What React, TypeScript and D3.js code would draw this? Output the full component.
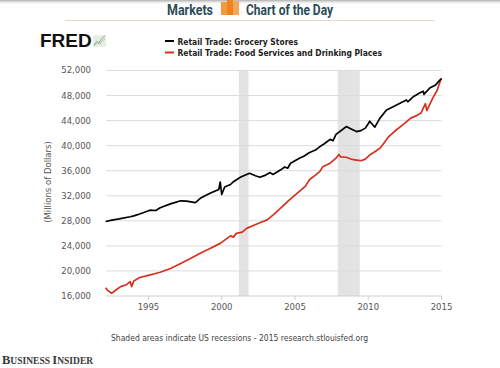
import * as d3 from 'd3';

// decimal years for each series
const groceryYears = [
  1992.08, 1992.5, 1993.0, 1993.75, 1994.0, 1994.4, 1995.1, 1995.5, 1995.8, 1996.5, 1997.2, 1997.6, 1998.2, 1998.6,
  1999.2, 1999.8, 1999.9, 2000.0, 2000.2, 2000.6, 2000.8, 2001.3, 2001.9, 2002.3, 2002.6, 2003.0,
  2003.3, 2003.5, 2004.0, 2004.3, 2004.5, 2004.7, 2005.3, 2005.6, 2006.0, 2006.4, 2006.7, 2007.0, 2007.4, 2007.6, 2007.8,
  2008.2, 2008.5, 2008.8, 2009.2, 2009.5, 2009.8, 2010.0, 2010.1, 2010.45, 2010.8, 2011.25, 2011.7,
  2012.2, 2012.6, 2012.7, 2013.1, 2013.5, 2013.75, 2013.8, 2014.2, 2014.6, 2014.9, 2015.0,
];
const groceryValues = [
  27900, 28100, 28300, 28650, 28800, 29100, 29700, 29650, 30100, 30700, 31200, 31150, 30900, 31700,
  32400, 33000, 34200, 32200, 33400, 33800, 34250, 35000, 35600, 35200, 34950, 35300,
  35700, 35400, 36100, 36600, 36400, 37200, 38000, 38300, 38900, 39300, 39850, 40300, 41000, 40800, 41800,
  42500, 43050, 42700, 42250, 42400, 42800, 43500, 43900, 42950, 44400, 45700, 46200,
  46800, 47300, 47000, 47850, 48400, 48700, 48200, 49200, 49700, 50500, 50650,
];

const foodYears = [
  1992.08, 1992.2, 1992.5, 1992.8, 1993.1, 1993.5, 1993.75, 1993.85, 1994.0, 1994.4, 1995.0, 1995.8,
  1996.5, 1997.2, 1997.8, 1998.5, 1999.2, 1999.9, 2000.6, 2000.8, 2001.0, 2001.4, 2001.7, 2002.2,
  2002.6, 2003.1, 2003.5, 2004.0, 2004.6, 2005.3, 2005.7, 2006.0, 2006.4, 2006.7, 2006.9, 2007.4,
  2007.8, 2008.0, 2008.1, 2008.5, 2008.9, 2009.2, 2009.5, 2009.8, 2010.1, 2010.5, 2010.8, 2011.1,
  2011.4, 2011.8, 2012.2, 2012.5, 2012.9, 2013.3, 2013.6, 2013.9, 2014.0, 2014.4, 2014.7, 2014.9, 2015.0,
];
const foodValues = [
  17300, 16900, 16450, 17000, 17500, 17800, 18300, 17500, 18400, 18950, 19300, 19800,
  20400, 21200, 21900, 22800, 23600, 24400, 25600, 25400, 26000, 26200, 26800, 27300,
  27700, 28150, 28900, 30000, 31300, 32700, 33500, 34600, 35300, 35900, 36650, 37200,
  38000, 38600, 38200, 38150, 37800, 37700, 37600, 37850, 38500, 39100, 39600, 40500,
  41450, 42300, 43050, 43600, 44400, 44800, 45200, 46700, 45600, 47600, 48800, 50200, 50800,
];

const yTicks = [16000, 20000, 24000, 28000, 32000, 36000, 40000, 44000, 48000, 52000];
const xTicks = [1995, 2000, 2005, 2010, 2015];
const recessions: [number, number][] = [
  [2001.17, 2001.83],
  [2007.92, 2009.42],
];
const seriesNames = ['Retail Trade: Grocery Stores', 'Retail Trade: Food Services and Drinking Places'];

const W = 500;
const H = 368;

export default function App() {
  const x = d3.scaleLinear().domain([1992, 2015]).range([104.5, 441.5]);
  const y = d3.scaleLinear().domain([16000, 52000]).range([296, 70.5]);

  const line = d3
    .line<[number, number]>()
    .x((d) => x(d[0]))
    .y((d) => y(d[1]));

  const grocery = groceryYears.map((t, i) => [t, groceryValues[i]] as [number, number]);
  const food = foodYears.map((t, i) => [t, foodValues[i]] as [number, number]);

  const fmt = d3.format(',');
  const gridX0 = 106;
  const gridX1 = x(2015);

  return (
    <svg
      width={W}
      height={H}
      style={{ position: 'absolute', left: 0, top: 0, background: '#fff' }}
      fontFamily="'DejaVu Sans', Verdana, sans-serif"
    >
      <defs>
        <linearGradient id="topShade" x1="0" y1="0" x2="0" y2="1">
          <stop offset="0" stopColor="#9a9a9a" stopOpacity={0.8} />
          <stop offset="1" stopColor="#ffffff" stopOpacity={0} />
        </linearGradient>
      </defs>
      <rect x={0} y={0} width={W} height={5} fill="url(#topShade)" />

      {/* header */}
      <text
        x={167}
        y={15}
        fontFamily="Roboto, 'Liberation Sans', sans-serif"
        fontWeight="bold"
        fontSize={15}
        fill="#2c4a57"
        textLength={46}
        lengthAdjust="spacingAndGlyphs"
      >
        Markets
      </text>
      <rect x={221} y={2} width={6} height={13} fill="#f39a3c" />
      <rect x={227} y={0} width={6} height={15} fill="#ee8420" />
      <rect x={233} y={1} width={6} height={14} fill="#f4a65a" />
      <text
        x={246}
        y={15}
        fontFamily="Roboto, 'Liberation Sans', sans-serif"
        fontWeight="bold"
        fontSize={15}
        fill="#2c4a57"
        textLength={87}
        lengthAdjust="spacingAndGlyphs"
      >
        Chart of the Day
      </text>
      <line x1={65} x2={434} y1={20.5} y2={20.5} stroke="#ead8cc" strokeWidth={1} />

      {/* FRED logo */}
      <text x={40} y={47} fontFamily="'Liberation Sans', Arial, sans-serif" fontWeight="bold" fontSize={19} fill="#111">
        FRED
      </text>
      <rect x={93} y={35} width={13} height={12} fill="#e6eee6" />
      <path d="M94,45 L97,41 L99,43 L102,38 L105,36" fill="none" stroke="#8fb08f" strokeWidth={1} />
      <path d="M94,46 L97,43 L100,44 L103,40 L105,39" fill="none" stroke="#a9c4a9" strokeWidth={1} />

      {/* legend */}
      {seriesNames.map((name, i) => (
        <g key={name}>
          <line
            x1={165}
            x2={174}
            y1={41 + i * 11.5}
            y2={41 + i * 11.5}
            stroke={i === 0 ? '#000' : '#d6301f'}
            strokeWidth={2}
          />
          <text
            x={177.5}
            y={44.5 + i * 11.5}
            fontSize={9}
            fontWeight="bold"
            fill="#222"
            textLength={i === 0 ? 120.5 : 204.5}
            lengthAdjust="spacingAndGlyphs"
          >
            {name}
          </text>
        </g>
      ))}

      {/* recessions */}
      {recessions.map(([a, b]) => (
        <rect key={a} x={x(a)} y={y(52000)} width={x(b) - x(a)} height={y(16000) - y(52000)} fill="#e3e3e3" />
      ))}

      {/* grid */}
      {yTicks.map((t) => (
        <g key={t}>
          <line x1={gridX0} x2={gridX1} y1={y(t)} y2={y(t)} stroke={t === 16000 ? '#cfcfcf' : '#dcdcdc'} strokeWidth={1} />
          <text x={91} y={y(t)} dy="0.35em" textAnchor="end" fontSize={8.5} fill="#555">
            {fmt(t)}
          </text>
        </g>
      ))}
      {xTicks.map((t) => (
        <g key={t}>
          <line x1={x(t)} x2={x(t)} y1={296} y2={300} stroke="#cfcfcf" strokeWidth={1} />
          <text x={x(t)} y={310} textAnchor="middle" fontSize={8.5} fill="#555">
            {t}
          </text>
        </g>
      ))}

      <text transform="translate(51,182) rotate(-90)" textAnchor="middle" fontSize={8.5} fill="#555">
        (Millions of Dollars)
      </text>

      {/* series */}
      <path d={line(food) ?? ''} fill="none" stroke="#d6301f" strokeWidth={1.7} strokeLinejoin="round" />
      <path d={line(grocery) ?? ''} fill="none" stroke="#000" strokeWidth={1.7} strokeLinejoin="round" />

      {/* footer */}
      <text x={111} y={341} fontSize={8.5} fill="#444" textLength={257} lengthAdjust="spacingAndGlyphs">
        Shaded areas indicate US recessions - 2015 research.stlouisfed.org
      </text>
      <text x={2} y={364} fontFamily="'Liberation Serif', 'DejaVu Serif', serif" fontWeight="bold" fill="#3a3a3a">
        <tspan fontSize={12.5}>B</tspan>
        <tspan fontSize={9.5}>USINESS </tspan>
        <tspan fontSize={12.5}>I</tspan>
        <tspan fontSize={9.5}>NSIDER</tspan>
      </text>
    </svg>
  );
}
